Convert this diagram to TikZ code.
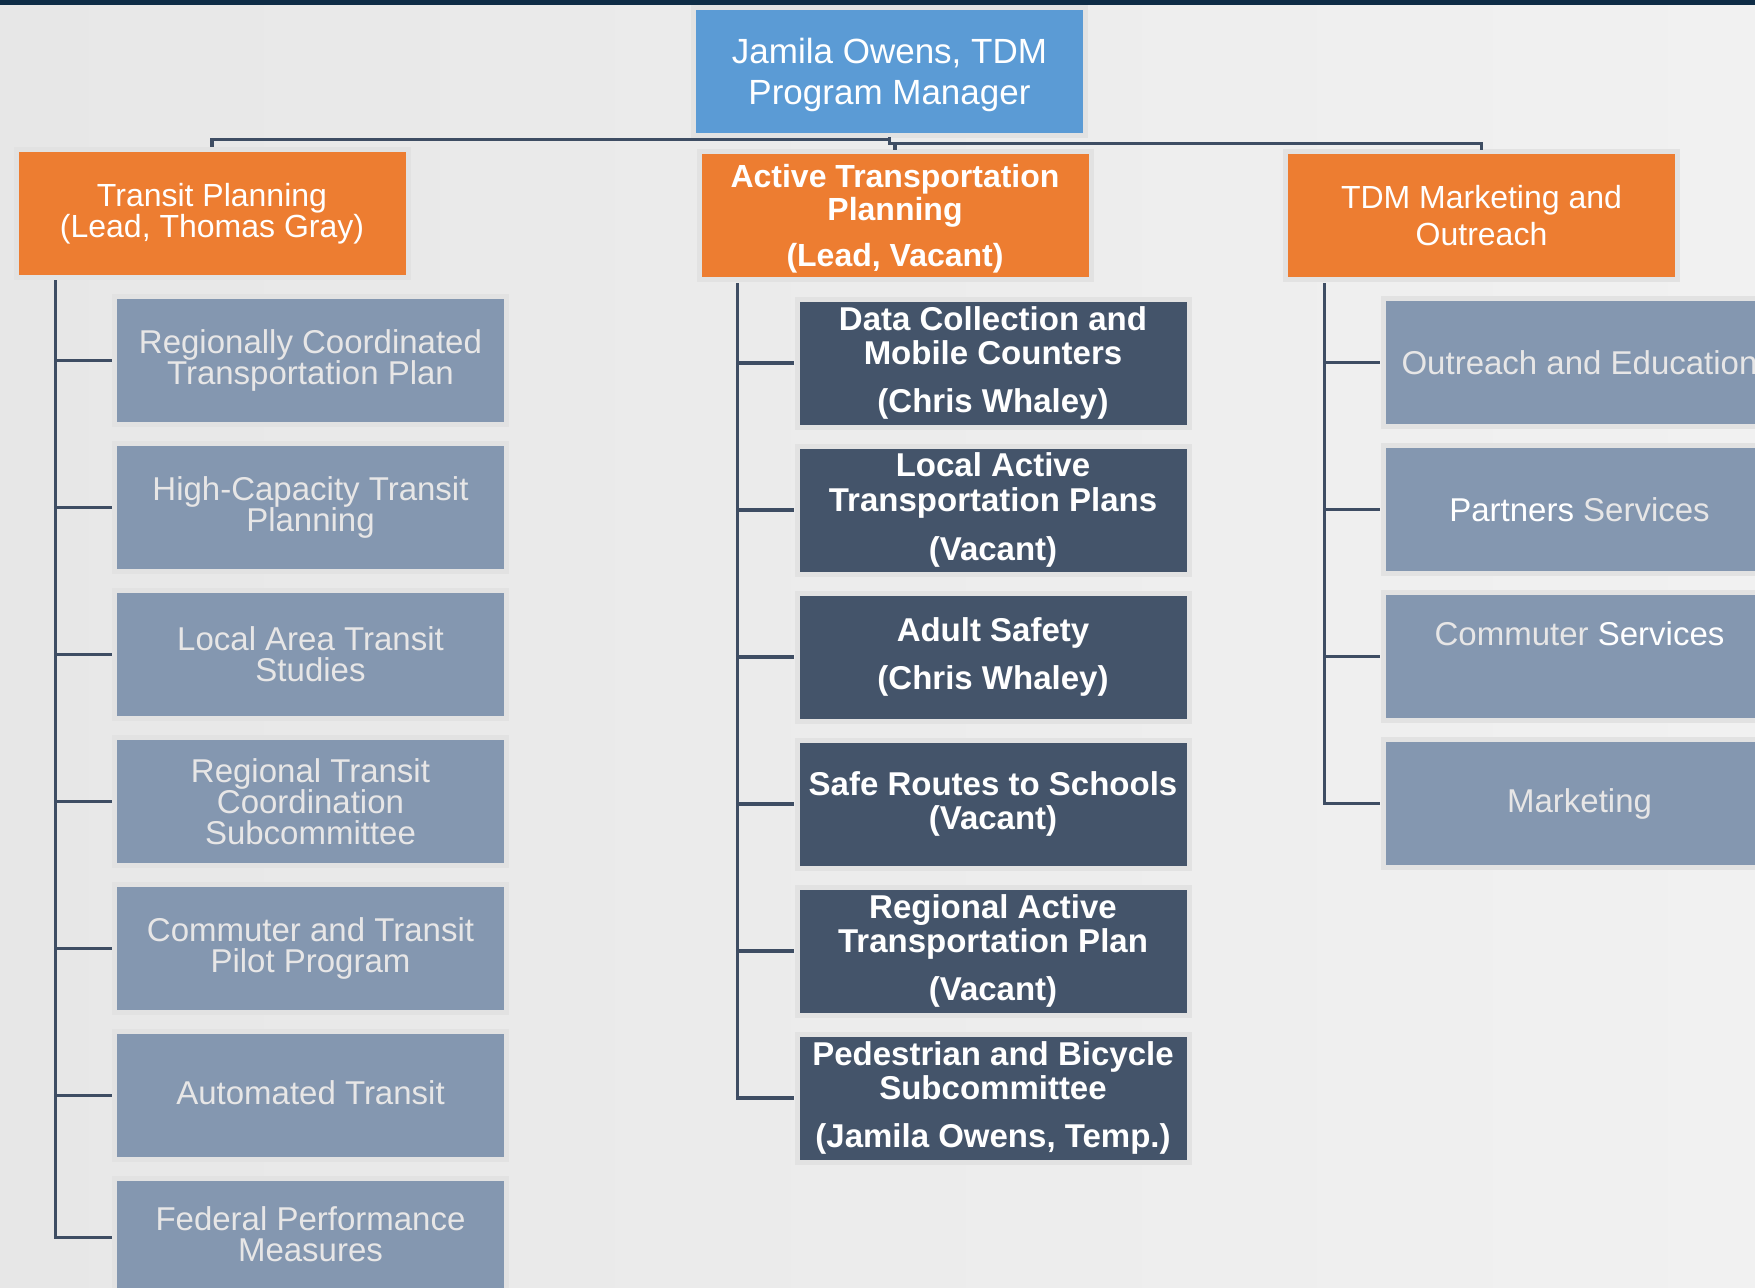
\documentclass[tikz,border=0pt]{standalone}
\usepackage{fontspec}
\setmainfont{Liberation Sans}
\definecolor{orng}{HTML}{ED7D31}
\definecolor{rootblue}{HTML}{5B9BD5}
\definecolor{gblue}{HTML}{8497B0}
\definecolor{dslate}{HTML}{44546A}
\definecolor{ltxt}{HTML}{E7E6E6}
\definecolor{haloc}{HTML}{E2E2E2}
\definecolor{connc}{HTML}{3E4D63}
\definecolor{bgL}{HTML}{E7E7E7}
\definecolor{bgR}{HTML}{F1F1F1}
\definecolor{topbar}{HTML}{0E2C46}
\begin{document}
\begin{tikzpicture}[x=1pt,y=-1pt,
  halo/.style={preaction={draw=haloc, line width=10pt}},
  box/.style={halo, inner sep=0pt, minimum width=387pt, minimum height=123pt, align=center},
  lbox/.style={box, fill=gblue, text=ltxt, font=\fontsize{33}{31}\selectfont},
  ltext/.style={align=center, text=ltxt, font=\fontsize{33}{31}\selectfont},
  dbox/.style={box, fill=dslate, text=white, font=\fontsize{33}{34.5}\selectfont\bfseries},
  obox/.style={box, fill=orng, text=white},
  rootbox/.style={box, fill=rootblue, text=white},
  conn/.style={draw=connc, line width=3.2pt}]
\useasboundingbox (0,0) rectangle (1755,1287);
\clip (0,0) rectangle (1755,1287);
\shade[left color=bgL, right color=bgR] (0,0) rectangle (1755,1287);
\fill[topbar] (0,0) rectangle (1755,5);

% root
\node[rootbox, label={[align=center, text=white, font=\fontsize{35}{41}\selectfont, yshift=-3.5pt]center:{Jamila Owens, TDM\\Program Manager}}] (root) at (889.5,71.5) {};

% second level
\node[obox, font=\fontsize{32}{29}\selectfont] (tp) at (212,213.5) {Transit Planning\\(Lead, Thomas Gray)};
\node[obox, label={[align=center, text=white, font=\fontsize{32}{33}\selectfont\bfseries, yshift=-3pt]center:{Active Transportation\\Planning\\[13pt](Lead, Vacant)}}] (tm) at (895,215.5) {};
\node[obox, font=\fontsize{32}{37}\selectfont] (tr) at (1481.5,215.5) {TDM Marketing and\\Outreach};

% left column
\node[lbox] (l1) at (310.5,360.5) {Regionally Coordinated\\Transportation Plan};
\node[lbox] (l2) at (310.5,507.5) {High-Capacity Transit\\Planning};
\node[lbox] (l3) at (310.5,654.5) {Local Area Transit\\Studies};
\node[lbox] (l4) at (310.5,801.5) {Regional Transit\\Coordination\\Subcommittee};
\node[lbox] (l5) at (310.5,948.5) {Commuter and Transit\\Pilot Program};
\node[lbox, label={[ltext, yshift=3pt]center:Automated Transit}] (l6) at (310.5,1095.5) {};
\node[lbox, label={[ltext, yshift=8pt]center:{Federal Performance\\Measures}}] (l7) at (310.5,1242.5) {};

% middle column
\node[dbox] (m1) at (993,363) {Data Collection and\\Mobile Counters\\[13.5pt](Chris Whaley)};
\node[dbox] (m2) at (993,510) {Local Active\\Transportation Plans\\[15pt](Vacant)};
\node[dbox, font=\fontsize{33}{48}\selectfont\bfseries] (m3) at (993,657) {Adult Safety\\(Chris Whaley)};
\node[dbox] (m4) at (993,804) {Safe Routes to Schools\\(Vacant)};
\node[dbox] (m5) at (993,951) {Regional Active\\Transportation Plan\\[13.5pt](Vacant)};
\node[dbox] (m6) at (993,1098) {Pedestrian and Bicycle\\Subcommittee\\[13.5pt](Jamila Owens, Temp.)};

% right column
\node[lbox] (r1) at (1579.5,362.5) {Outreach and Education};
\node[lbox] (r2) at (1579.5,509.5) {\textcolor{white}{Partners} Services};
\node[lbox, label={[ltext, yshift=23pt]center:{Commuter \textcolor{white}{Services}}}] (r3) at (1579.5,656.5) {};
\node[lbox] (r4) at (1579.5,803.5) {Marketing};

% top connectors
\coordinate (j1) at ([yshift=-6pt]root.south);
\draw[conn] ([yshift=-4pt]root.south) -- (j1) -| ([yshift=5pt]tp.north);
\draw[conn] (j1) -- ++(0,4) coordinate (j2) -| ([yshift=4pt]tr.north);
\draw[conn] (j2 -| tm.north) -- ([yshift=4pt]tm.north);

% trunks
\coordinate (ltr) at ([xshift=37pt,yshift=-5pt]tp.south west);
\coordinate (mtr) at ([xshift=36.5pt,yshift=-6pt]tm.south west);
\coordinate (rtr) at ([xshift=37pt,yshift=-6pt]tr.south west);
\draw[conn] (ltr) |- ([xshift=-5pt,yshift=5pt]l7.west);
\foreach \i in {1,...,6} \draw[conn] (ltr |- l\i.west) -- ([xshift=-5pt]l\i.west);
\draw[conn] (mtr) |- ([xshift=-5pt]m6.west);
\foreach \i in {1,...,5} \draw[conn] (mtr |- m\i.west) -- ([xshift=-5pt]m\i.west);
\draw[conn] (rtr) |- ([xshift=-6pt]r4.west);
\foreach \i in {1,...,3} \draw[conn] (rtr |- r\i.west) -- ([xshift=-6pt]r\i.west);
\end{tikzpicture}
\end{document}
